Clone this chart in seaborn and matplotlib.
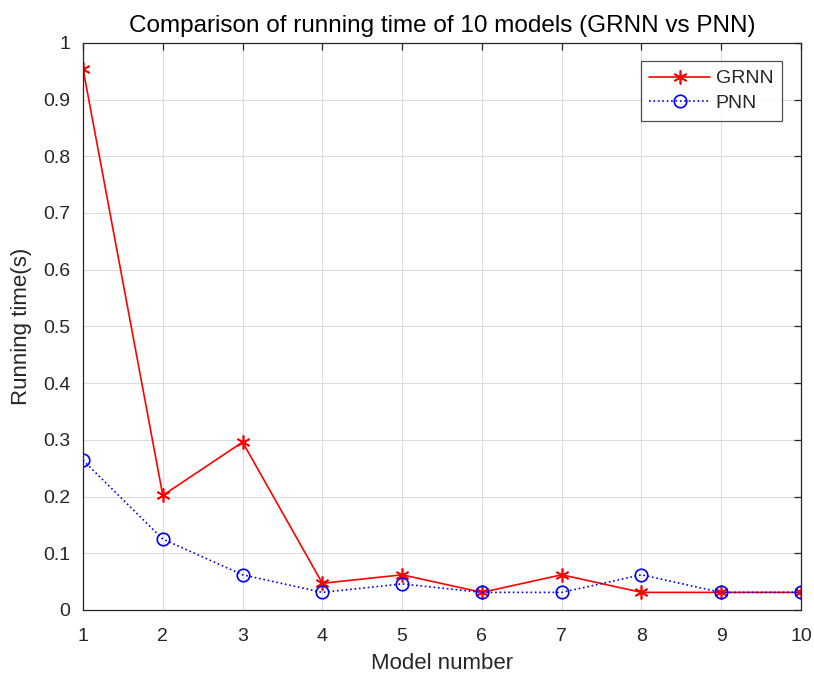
import matplotlib
matplotlib.use("Agg")
import matplotlib.pyplot as plt
import seaborn as sns
import pandas as pd

models = [1, 2, 3, 4, 5, 6, 7, 8, 9, 10]
grnn = [0.954, 0.202, 0.296, 0.047, 0.062, 0.031, 0.062, 0.031, 0.031, 0.031]
pnn = [0.264, 0.125, 0.062, 0.031, 0.046, 0.031, 0.031, 0.062, 0.031, 0.031]
y_ticks = [0, 0.1, 0.2, 0.3, 0.4, 0.5, 0.6, 0.7, 0.8, 0.9, 1]
y_labels = ["0", "0.1", "0.2", "0.3", "0.4", "0.5", "0.6", "0.7", "0.8", "0.9", "1"]

sns.set_style("white")
plt.rcParams['font.family'] = ['Liberation Sans', 'DejaVu Sans']

df = pd.DataFrame({"Model": models, "GRNN": grnn, "PNN": pnn})

fig = plt.figure(figsize=(8.14, 6.8), dpi=100)
ax = fig.add_axes([0.102, 0.103, 0.882, 0.834])

sns.lineplot(data=df, x="Model", y="GRNN", ax=ax, color="#ff0000", linestyle="-",
             marker=(6, 2, 0), markersize=10, markeredgewidth=1.2, markeredgecolor="#ff0000",
             linewidth=1.2, label="GRNN")
sns.lineplot(data=df, x="Model", y="PNN", ax=ax, color="#0000ff", linestyle=":",
             marker="o", markersize=9, markerfacecolor="none", markeredgewidth=1.2,
             markeredgecolor="#0000ff", linewidth=1.2, label="PNN")

ax.set_xlim(1, 10)
ax.set_ylim(0, 1)
ax.set_xticks(models)
ax.set_xticklabels([str(m) for m in models])
ax.set_yticks(y_ticks)
ax.set_yticklabels(y_labels)
ax.grid(True, color="#dcdcdc", linewidth=0.8)
ax.set_axisbelow(True)
for s in ax.spines.values():
    s.set_color("#262626")
    s.set_linewidth(0.9)
ax.tick_params(direction="in", length=5, width=0.9, colors="#262626", labelsize=14,
               top=True, right=True, labeltop=False, labelright=False)
ax.tick_params(axis="x", pad=13)
ax.tick_params(axis="y", pad=9)
ax.set_xlabel("Model number", fontsize=16, color="#262626", labelpad=6)
ax.set_ylabel("Running time(s)", fontsize=16, color="#262626", labelpad=8)
ax.set_title("Comparison of running time of 10 models (GRNN vs PNN)", fontsize=17.5,
             color="#000000", pad=8)

leg = ax.legend(loc="upper right", bbox_to_anchor=(0.9735, 0.968), fontsize=14, frameon=True,
                fancybox=False, edgecolor="#262626", handlelength=3.1, borderpad=0.45,
                labelspacing=0.35, handletextpad=0.3, borderaxespad=0.0)
leg.get_frame().set_linewidth(0.9)
for t in leg.get_texts():
    t.set_color("#262626")

fig.savefig("out.png", dpi=100, facecolor="white")
